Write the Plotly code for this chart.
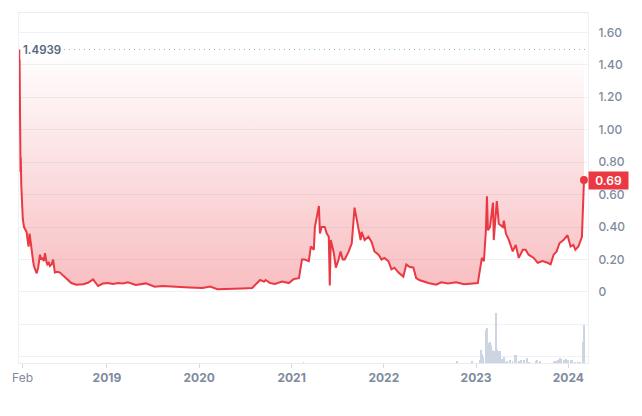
import plotly.graph_objects as go

# ---------------- data ----------------
dates = [
    "2018-01-20", "2018-01-23", "2018-01-24", "2018-01-25", "2018-01-27", "2018-01-29",
    "2018-02-02", "2018-02-07", "2018-02-12", "2018-02-17", "2018-02-22", "2018-02-25",
    "2018-03-01", "2018-03-05", "2018-03-09", "2018-03-14", "2018-03-18", "2018-03-24",
    "2018-03-29", "2018-04-04", "2018-04-11", "2018-04-16", "2018-04-21", "2018-04-26",
    "2018-05-01", "2018-05-06", "2018-05-10", "2018-05-16", "2018-05-20", "2018-05-27",
    "2018-06-02", "2018-06-09", "2018-06-19", "2018-06-29", "2018-07-12", "2018-07-25",
    "2018-08-05", "2018-08-13", "2018-09-02", "2018-09-29", "2018-10-18", "2018-11-01",
    "2018-11-07", "2018-11-27", "2018-12-16", "2019-01-05", "2019-01-25", "2019-02-15",
    "2019-03-05", "2019-03-25", "2019-04-25", "2019-06-04", "2019-07-09", "2019-08-09",
    "2019-09-30", "2019-11-24", "2020-01-14", "2020-02-14", "2020-03-13", "2020-04-29",
    "2020-06-19", "2020-07-29", "2020-08-10", "2020-08-29", "2020-09-14", "2020-09-20",
    "2020-10-08", "2020-10-27", "2020-11-24", "2020-12-21", "2021-01-10", "2021-01-30",
    "2021-02-11", "2021-02-22", "2021-03-10", "2021-03-18", "2021-03-30", "2021-04-03",
    "2021-04-19", "2021-04-23", "2021-04-30", "2021-05-12", "2021-05-20", "2021-05-28",
    "2021-06-01", "2021-06-05", "2021-06-17", "2021-06-25", "2021-07-06", "2021-07-14",
    "2021-07-22", "2021-07-30", "2021-08-15", "2021-08-27", "2021-09-07", "2021-09-15",
    "2021-09-23", "2021-10-01", "2021-10-05", "2021-10-17", "2021-11-01", "2021-11-13",
    "2021-11-25", "2021-12-11", "2021-12-23", "2022-01-03", "2022-01-19", "2022-01-31",
    "2022-02-12", "2022-02-28", "2022-03-19", "2022-03-31", "2022-04-12", "2022-04-28",
    "2022-05-09", "2022-05-21", "2022-06-26", "2022-07-27", "2022-08-16", "2022-09-12",
    "2022-10-14", "2022-11-14", "2022-12-20", "2023-01-08", "2023-01-12", "2023-01-24",
    "2023-02-01", "2023-02-09", "2023-02-13", "2023-02-17", "2023-02-25", "2023-03-09",
    "2023-03-12", "2023-03-20", "2023-03-24", "2023-04-01", "2023-04-17", "2023-04-21",
    "2023-04-29", "2023-05-11", "2023-05-26", "2023-06-07", "2023-06-19", "2023-07-05",
    "2023-07-16", "2023-07-28", "2023-08-17", "2023-09-02", "2023-09-21", "2023-10-11",
    "2023-10-23", "2023-11-04", "2023-11-16", "2023-11-27", "2023-12-13", "2023-12-29",
    "2024-01-10", "2024-01-21", "2024-01-29", "2024-02-10", "2024-02-24", "2024-03-03",
]
prices = [
    1.4939, 0.82, 0.74, 0.83, 0.66, 0.55,
    0.45, 0.40, 0.38, 0.37, 0.31, 0.28,
    0.36, 0.30, 0.24, 0.20, 0.16, 0.13,
    0.115, 0.15, 0.23, 0.20, 0.21, 0.19,
    0.24, 0.19, 0.17, 0.18, 0.16, 0.17,
    0.20, 0.12, 0.125, 0.12, 0.10, 0.085,
    0.065, 0.055, 0.045, 0.048, 0.057, 0.075,
    0.078, 0.037, 0.052, 0.055, 0.05, 0.055,
    0.053, 0.06, 0.043, 0.053, 0.032, 0.037,
    0.03, 0.027, 0.024, 0.033, 0.017, 0.018,
    0.022, 0.025, 0.043, 0.074, 0.064, 0.074,
    0.055, 0.05, 0.064, 0.055, 0.08, 0.085,
    0.20, 0.20, 0.19, 0.28, 0.26, 0.40,
    0.53, 0.36, 0.40, 0.40, 0.36, 0.34,
    0.04, 0.32, 0.24, 0.15, 0.20, 0.25,
    0.20, 0.20, 0.25, 0.30, 0.52, 0.46,
    0.40, 0.32, 0.37, 0.32, 0.34, 0.31,
    0.25, 0.23, 0.20, 0.21, 0.19, 0.14,
    0.15, 0.12, 0.095, 0.17, 0.155, 0.15,
    0.085, 0.074, 0.055, 0.045, 0.06, 0.053,
    0.06, 0.048, 0.053, 0.055, 0.095, 0.21,
    0.19, 0.38, 0.59, 0.38, 0.40, 0.55,
    0.32, 0.51, 0.56, 0.42, 0.40, 0.44,
    0.36, 0.32, 0.25, 0.29, 0.21, 0.26,
    0.26, 0.23, 0.21, 0.18, 0.19, 0.18,
    0.17, 0.23, 0.25, 0.30, 0.32, 0.35,
    0.28, 0.29, 0.26, 0.28, 0.34, 0.69,
]

vol_dates = [
    "2021-02-17", "2022-10-18", "2022-12-16", "2023-01-18", "2023-01-21", "2023-01-25",
    "2023-01-29", "2023-02-10", "2023-02-14", "2023-02-18", "2023-02-22", "2023-02-26",
    "2023-03-02", "2023-03-06", "2023-03-10", "2023-03-14", "2023-03-18", "2023-03-21",
    "2023-03-25", "2023-03-29", "2023-04-04", "2023-04-09", "2023-04-16", "2023-04-22",
    "2023-04-27", "2023-05-05", "2023-05-16", "2023-05-25", "2023-06-04", "2023-06-10",
    "2023-06-19", "2023-06-27", "2023-07-10", "2023-07-20", "2023-07-29", "2023-08-25",
    "2023-08-31", "2023-09-10", "2023-11-05", "2023-11-12", "2023-11-21", "2023-11-29",
    "2023-12-05", "2023-12-14", "2023-12-24", "2023-12-30", "2024-01-10", "2024-01-17",
    "2024-01-29", "2024-02-10", "2024-02-18", "2024-02-26", "2024-02-29", "2024-03-04",
]
volumes = [
    1, 1.5, 2, 3, 13, 9,
    6, 33, 35, 13, 20, 21,
    18, 13, 12, 12, 12, 50,
    13, 12, 12, 4, 4, 6,
    1, 2, 3, 2, 8, 8,
    2, 3, 3, 5, 1, 2,
    3, 2, 2, 2, 3, 5,
    4, 3, 4, 3, 3, 3,
    1, 1, 1, 9, 21, 38,
]

y_ticks = [0, 0.2, 0.4, 0.6, 0.8, 1.0, 1.2, 1.4, 1.6]
y_tick_labels = ["0", "0.20", "0.40", "0.60", "0.80", "1.00", "1.20", "1.40", "1.60"]
x_tick_dates = ["2018-02-01", "2019-01-01", "2020-01-01", "2021-01-01",
                "2022-01-01", "2023-01-01", "2024-01-01"]
x_tick_labels = ["Feb", "<b>2019</b>", "<b>2020</b>", "<b>2021</b>",
                 "<b>2022</b>", "<b>2023</b>", "<b>2024</b>"]
vol_grid = [7, 39]

# ---------------- styling ----------------
RED = "#ea3943"
GRID = "#eff1f4"
LABEL = "#808a9d"
FONT = "Inter, Roboto, sans-serif"
pmax = max(prices)

fig = go.Figure()

# invisible upper boundary at the maximum price: the gradient fills between it and the line
fig.add_trace(go.Scatter(
    x=dates, y=[pmax] * len(dates), mode="lines", line=dict(width=0, color="rgba(0,0,0,0)"),
    hoverinfo="skip", showlegend=False,
))
fig.add_trace(go.Scatter(
    x=dates, y=prices, mode="lines", line=dict(color=RED, width=2),
    fill="tonexty",
    fillgradient=dict(
        type="vertical",
        colorscale=[[0, "rgba(234,57,67,0.33)"], [1, "rgba(234,57,67,0.0)"]],
        start=0, stop=pmax,
    ),
    showlegend=False, hoverinfo="skip",
))
fig.add_trace(go.Scatter(
    x=[dates[-1]], y=[prices[-1]], mode="markers",
    marker=dict(color=RED, size=8), showlegend=False, hoverinfo="skip",
))
fig.add_trace(go.Bar(
    x=vol_dates, y=volumes, yaxis="y2",
    marker=dict(color="#cdd4e2", line_width=0),
    width=3.5 * 86400000, showlegend=False, hoverinfo="skip",
))

plot_h = 416 - 13 - 53
vol_h = 63

fig.update_layout(
    width=642, height=416,
    margin=dict(l=16, r=54, t=13, b=53),
    paper_bgcolor="white", plot_bgcolor="white",
    font=dict(family=FONT, color=LABEL, size=12),
    bargap=0,
    xaxis=dict(
        range=["2018-01-18", "2024-03-19"],
        tickmode="array", tickvals=x_tick_dates, ticktext=x_tick_labels,
        showgrid=False, zeroline=False,
        showline=True, linecolor="#e8ebf0", linewidth=1, mirror=True,
        ticks="outside", ticklen=4, tickcolor="#d5dae2",
        tickfont=dict(family=FONT, size=12, color=LABEL),
    ),
    yaxis=dict(
        domain=[0, 1], range=[-0.4375, 1.719], side="right",
        tickmode="array", tickvals=y_ticks, ticktext=y_tick_labels,
        showgrid=True, gridcolor=GRID, gridwidth=1, zeroline=False,
        showline=True, linecolor=GRID, mirror=True,
        ticks="", ticklabelstandoff=7,
        tickfont=dict(family=FONT, size=12, color=LABEL, weight=500),
    ),
    yaxis2=dict(
        domain=[0, vol_h / plot_h], range=[0, vol_h], anchor="x",
        tickmode="array", tickvals=vol_grid, showticklabels=False,
        showgrid=True, gridcolor=GRID, zeroline=False, showline=False,
    ),
    shapes=[dict(
        type="line", xref="paper", yref="y", x0=0, x1=1, y0=pmax, y1=pmax,
        line=dict(color="#a3abba", width=1, dash="1px,4px"), layer="above",
    )],
    annotations=[
        dict(
            xref="paper", yref="y", x=0, y=pmax, xanchor="left", yanchor="middle",
            text=f"{pmax:.4f}", showarrow=False, xshift=1,
            bgcolor="white", borderpad=2,
            font=dict(family=FONT, size=11.5, color="#58667e", weight=600),
        ),
        dict(
            xref="paper", yref="y", x=1, y=prices[-1], xanchor="left", yanchor="middle",
            text=f"{prices[-1]:.2f}", showarrow=False,
            bgcolor=RED, borderpad=2, width=35, height=13,
            font=dict(family=FONT, size=12, color="white", weight=600),
        ),
    ],
)

fig.write_html("out.html")
